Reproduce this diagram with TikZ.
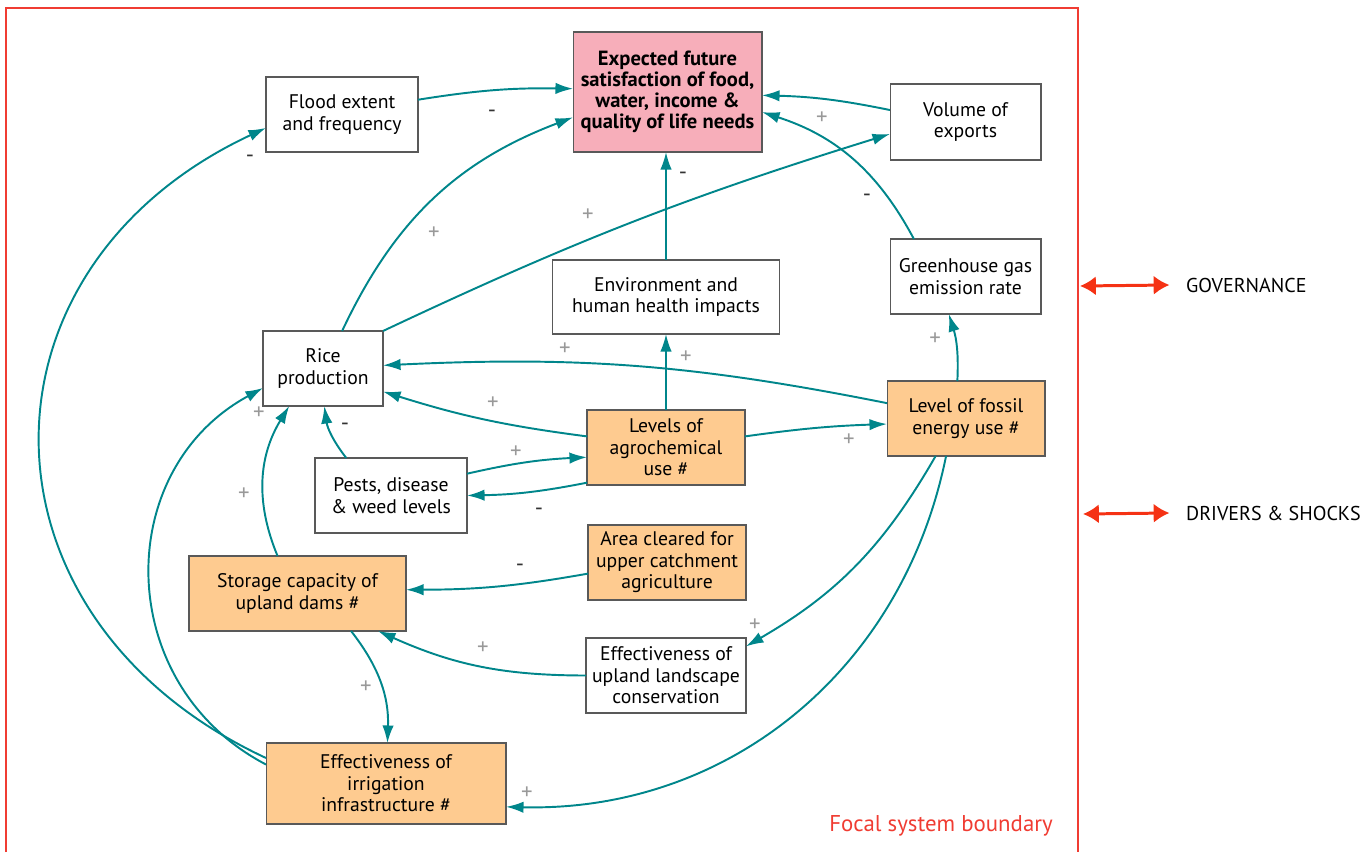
\documentclass[tikz,border=0pt]{standalone}
\usepackage{fontspec}
\setmainfont{PT Sans}
\usetikzlibrary{arrows.meta}
\definecolor{linkteal}{RGB}{0,134,139}
\definecolor{driverfill}{RGB}{254,203,144}
\definecolor{goalfill}{RGB}{247,174,186}
\definecolor{boundaryred}{RGB}{240,60,50}
\definecolor{shockred}{RGB}{245,50,20}
\tikzset{
	every factor/.style={
		rectangle,
		draw=black!65,
		line width=0.6pt,
		fill=white,
		align=center,
		inner sep=0pt,
		outer sep=0pt,
		font=\fontsize{11.2}{12.2}\selectfont,
		minimum height=1.5cm },
	factor driver/.style={
		fill=driverfill },
	factor goal/.style={
		fill=goalfill,
		font=\fontsize{11.7}{12}\selectfont\bfseries },
	link/.style={
		draw=linkteal,
		line width=1.1pt,
		-{Latex[length=10pt,width=6.5pt]} },
	every sign/.style={
		inner sep=0pt,
		font=\fontsize{13}{13}\selectfont },
	sign p/.style={
		text=black!40,
		execute at begin node={+} },
	sign m/.style={
		text=black!80,
		execute at begin node={-} },
	shock/.style={
		draw=shockred,
		line width=1.7pt,
		{Latex[length=9pt,width=11pt]}-{Latex[length=9pt,width=11pt]} },
}

\begin{document}
\begin{tikzpicture}[x=0.02cm, y=-0.02cm]
	\useasboundingbox (0,0) rectangle (1371,852);

	% focal system boundary
	\draw [boundaryred, line width=0.6pt] (6,852) -- (6,8) -- (1078,8) -- (1078,852);
	\node [text=boundaryred, font=\fontsize{13}{15}\selectfont] (focal) at (941,826) {Focal system boundary};

	% factors
	\node [every factor/.try, factor goal/.try, minimum width=3.78cm, minimum height=2.4cm] (goal) at (667.5,92)
		{Expected future\\satisfaction of food,\\water, income \&\\quality of life needs};
	\node [every factor/.try, minimum width=3.04cm] (flood) at (342,114.5) {Flood extent\\and frequency};
	\node [every factor/.try, minimum width=3.02cm, minimum height=1.52cm] (exports) at (965.5,122) {Volume of\\exports};
	\node [every factor/.try, minimum width=3.02cm] (ghg) at (965.5,276.5) {Greenhouse gas\\emission rate};
	\node [every factor/.try, minimum width=4.54cm, minimum height=1.48cm] (env) at (666,297) {Environment and\\human health impacts};
	\node [every factor/.try, minimum width=2.4cm] (rice) at (323,368.5) {Rice\\production};
	\node [every factor/.try, factor driver/.try, minimum width=3.16cm] (agro) at (666,447.5) {Levels of\\agrochemical\\use \#};
	\node [every factor/.try, factor driver/.try, minimum width=3.16cm] (fossil) at (966,418.5) {Level of fossil\\energy use \#};
	\node [every factor/.try, minimum width=3.04cm] (pests) at (391,495.5) {Pests, disease\\\& weed levels};
	\node [every factor/.try, factor driver/.try, minimum width=3.16cm] (area) at (667,562.5) {Area cleared for\\upper catchment\\agriculture};
	\node [every factor/.try, factor driver/.try, minimum width=4.34cm] (storage) at (297.5,593.5) {Storage capacity of\\upland dams \#};
	\node [every factor/.try, minimum width=3.2cm] (upland) at (666,675.5) {Effectiveness of\\upland landscape\\conservation};
	\node [every factor/.try, factor driver/.try, minimum width=4.8cm, minimum height=1.62cm] (irrigation) at (386,783.5)
		{Effectiveness of\\irrigation\\infrastructure \#};

	% outside influences
	\node [anchor=west, font=\fontsize{11.4}{13}\selectfont] (governance) at (1180,285) {GOVERNANCE};
	\node [anchor=west, font=\fontsize{11.4}{13}\selectfont] (drivers) at (1180,513) {DRIVERS \& SHOCKS};
	\coordinate (governance-in) at (1080,286);
	\coordinate (drivers-in) at (1083,514);
	\draw [shock] (governance-in) -- ([xshift=-6pt]governance.west);
	\draw [shock] (drivers-in) -- ([xshift=-6pt]drivers.west);

	% links
	\draw [link] (flood.11) to [bend left=5] (goal.178);
	\draw [link] (rice.63) to [bend left=22] (goal.195);
	\draw [link] (rice.north east) to [bend left=4] (exports.189);
	\draw [link] (exports.171) to [bend right=5] (goal.358);
	\draw [link] (ghg.144) to [bend right=22] (goal.348);
	\draw [link] (env.north) -- (env.north |- goal.south);
	\draw [link] (agro.north) -- (agro.north |- env.south);
	\draw [link] (fossil.169) to [bend right=7] (rice.3);
	\draw [link] (agro.172) to [bend left=5] (rice.339);
	\draw [link] (agro.8) to [bend left=3] (fossil.184);
	\draw [link] (fossil.103) to [bend right=10] (ghg.246);
	\draw [link] (pests.16) to [bend left=5] (agro.187);
	\draw [link] (agro.204) to [bend left=5] (pests.0);
	\draw [link] (pests.140) to [bend left=15] (rice.272);
	\draw [link] (storage.118) to [bend left=27] (rice.228);
	\draw [link] (irrigation.171) to [bend left=62, looseness=1.17] (rice.198);
	\draw [link] (irrigation.168) to [bend left=65, looseness=1.35] (flood.190);
	\draw [link] (area.188) to [bend left=5] (storage.2);
	\draw [link] (upland.180) to [bend left=12] (storage.335);
	\draw [link] (storage.325) to [bend left=20] (irrigation.88);
	\draw [link] (fossil.231) to [bend left=15] (upland.20);
	\draw [link] (fossil.242) to [bend left=40] (irrigation.349);

	% polarity of each link
	\foreach \k/\x/\y [count=\i] in {m/492/114, p/434/233, p/588/215, p/822/118, m/867/198,
		m/683/176, p/686/357, p/565/349, p/493/403, p/849/440, p/935/339, p/516/452,
		m/539/512, m/345/427, p/244/494, p/259/413, m/250/159, m/520/568, p/483/648,
		p/366/687, p/755/625, p/527/793}
	\node [every sign/.try, sign \k] (sign-\i) at (\x,\y) {};
\end{tikzpicture}
\end{document}
